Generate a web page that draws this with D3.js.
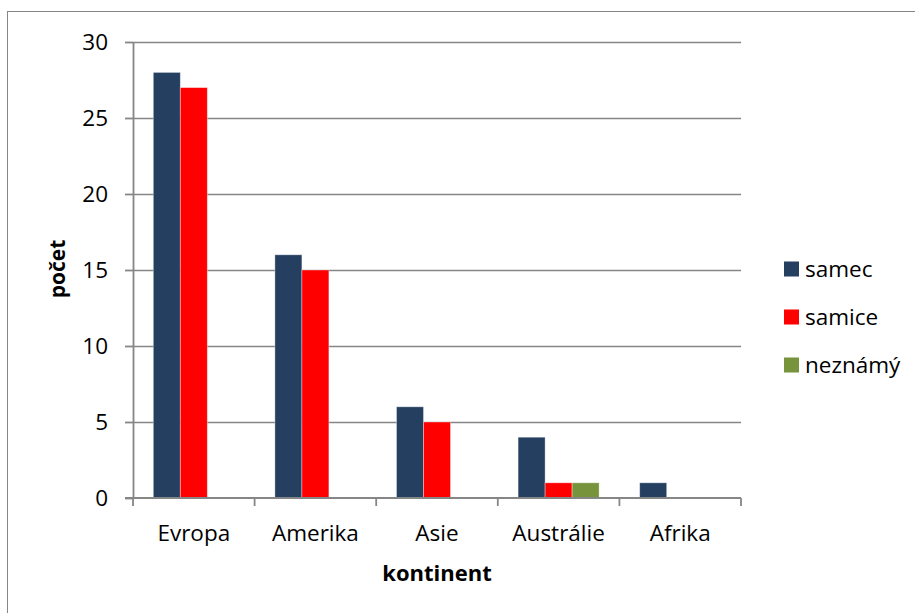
<!DOCTYPE html>
<html>
<head>
<meta charset="utf-8">
<script src="https://cdn.jsdelivr.net/npm/d3@7"></script>
<style>
  html, body { margin: 0; padding: 0; background: #fff; }
  svg { display: block; }
  text { font-family: "Open Sans", "Noto Sans", sans-serif; fill: #000; }
</style>
</head>
<body>
<svg id="chart" width="915" height="613"></svg>
<script>
// Počty jedinců podle kontinentu a pohlaví
const continents = ["Evropa", "Amerika", "Asie", "Austrálie", "Afrika"];
const seriesNames = ["samec", "samice", "neznámý"];
const samec   = [28, 16, 6, 4, 1];
const samice  = [27, 15, 5, 1, 0];
const neznamy = [0, 0, 0, 1, 0];
const yTicks  = [0, 5, 10, 15, 20, 25, 30];
const colors  = ["#243F60", "#FF0000", "#77933C"];

const values = [samec, samice, neznamy];
const rows = continents.map((c, i) => ({
  continent: c,
  vals: seriesNames.map((s, j) => ({ series: s, value: values[j][i], color: colors[j] }))
}));

const svg = d3.select("#chart");
const plot = { left: 133, right: 741, top: 42, bottom: 498 };
const labelSize = 22.5;

// chart frame
svg.append("rect")
  .attr("x", 7.5).attr("y", 11.5)
  .attr("width", 930).attr("height", 620)
  .attr("fill", "#fff").attr("stroke", "#868686").attr("stroke-width", 1);

const x0 = d3.scaleBand().domain(continents).range([plot.left, plot.right]).paddingInner(0).paddingOuter(0);
const groupPad = 20.3;
const x1 = d3.scaleBand().domain(seriesNames).range([groupPad, x0.bandwidth() - groupPad]);
const y = d3.scaleLinear().domain([0, 30]).range([plot.bottom, plot.top]);

// horizontal gridlines
svg.append("g").selectAll("line").data(yTicks.filter(t => t > 0)).join("line")
  .attr("x1", plot.left).attr("x2", plot.right)
  .attr("y1", d => y(d) + 0.5).attr("y2", d => y(d) + 0.5)
  .attr("stroke", "#868686").attr("stroke-width", 1.3);

// bars
const groups = svg.append("g").selectAll("g").data(rows).join("g")
  .attr("transform", d => `translate(${x0(d.continent)},0)`);
groups.selectAll("rect").data(d => d.vals.filter(v => v.value > 0)).join("rect")
  .attr("x", d => x1(d.series))
  .attr("width", x1.bandwidth())
  .attr("y", d => y(d.value))
  .attr("height", d => y(0) - y(d.value))
  .attr("fill", d => d.color)
  .attr("stroke", "rgba(255,255,255,0.45)").attr("stroke-width", 0.8);

// y axis
const yAxis = svg.append("g")
  .attr("transform", `translate(${plot.left},0)`)
  .call(d3.axisLeft(y).tickValues(yTicks).tickSize(8).tickPadding(17).tickSizeOuter(0));
yAxis.select(".domain").attr("stroke", "#868686").attr("stroke-width", 1.8);
yAxis.selectAll(".tick line").attr("stroke", "#868686").attr("stroke-width", 1.8);
yAxis.selectAll(".tick text").attr("font-size", labelSize).attr("fill", "#000")
  .style("font-family", "'Open Sans', sans-serif");

// x axis: category boundary ticks
const xAxisG = svg.append("g").attr("transform", `translate(0,${plot.bottom})`);
xAxisG.append("line")
  .attr("x1", plot.left - 8).attr("x2", plot.right)
  .attr("stroke", "#868686").attr("stroke-width", 1.8);
const boundaries = continents.map(c => x0(c)).concat([plot.right]);
xAxisG.selectAll("line.tk").data(boundaries).join("line").attr("class", "tk")
  .attr("x1", d => d).attr("x2", d => d)
  .attr("y1", 0).attr("y2", 8)
  .attr("stroke", "#868686").attr("stroke-width", 1.8);
xAxisG.selectAll("text").data(continents).join("text")
  .attr("x", d => x0(d) + x0.bandwidth() / 2)
  .attr("y", 43)
  .attr("text-anchor", "middle")
  .attr("font-size", labelSize)
  .text(d => d);

// axis titles
svg.append("text")
  .attr("x", 437).attr("y", 581)
  .attr("text-anchor", "middle")
  .attr("font-size", 22).attr("font-weight", "bold")
  .text("kontinent");
svg.append("text")
  .attr("transform", "translate(65,269) rotate(-90)")
  .attr("text-anchor", "middle")
  .attr("font-size", 21).attr("font-weight", "bold")
  .text("počet");

// legend
const legend = svg.append("g").selectAll("g").data(seriesNames).join("g")
  .attr("transform", (d, i) => `translate(784,${269 + i * 48})`);
legend.append("rect")
  .attr("x", 0).attr("y", -7.5).attr("width", 15).attr("height", 15)
  .attr("fill", (d, i) => colors[i]);
legend.append("text")
  .attr("x", 21).attr("y", 8)
  .attr("font-size", labelSize)
  .text(d => d);
</script>
</body>
</html>
